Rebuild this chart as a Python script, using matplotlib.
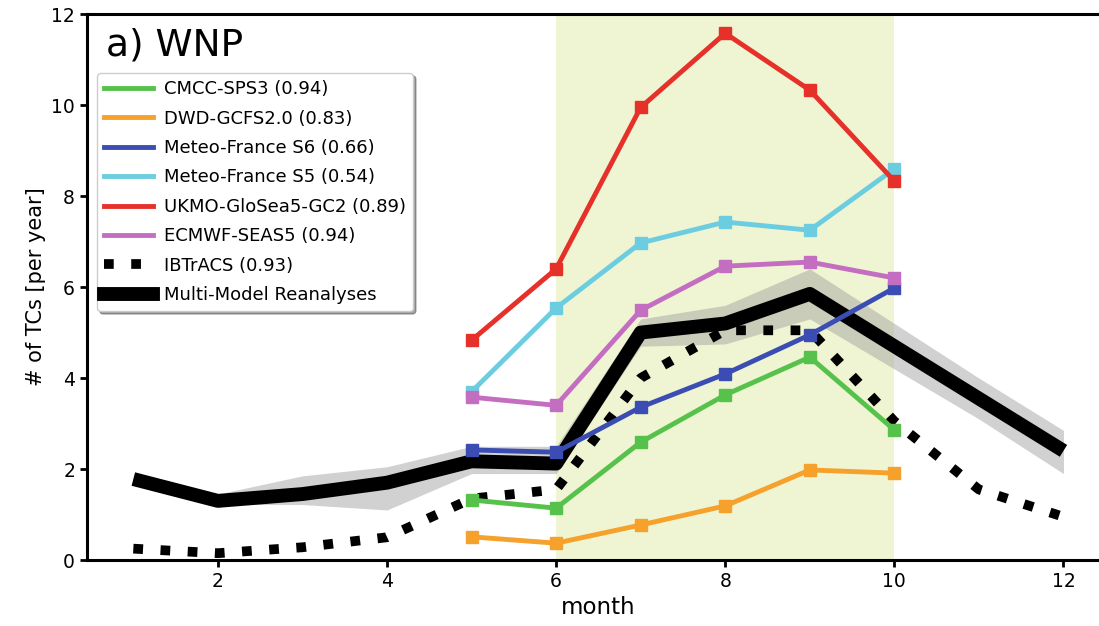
import matplotlib
matplotlib.use("Agg")
import matplotlib.pyplot as plt
from matplotlib.lines import Line2D

# months
months_all = [1, 2, 3, 4, 5, 6, 7, 8, 9, 10, 11, 12]
months_mod = [5, 6, 7, 8, 9, 10]

# model forecasts (May-Oct)
cmcc = [1.32, 1.14, 2.59, 3.63, 4.46, 2.86]
dwd = [0.51, 0.37, 0.77, 1.19, 1.98, 1.91]
mf_s6 = [2.42, 2.37, 3.36, 4.09, 4.95, 5.98]
mf_s5 = [3.70, 5.54, 6.97, 7.43, 7.25, 8.60]
ukmo = [4.83, 6.40, 9.95, 11.58, 10.33, 8.33]
ecmwf = [3.58, 3.40, 5.49, 6.46, 6.55, 6.20]

# observations / reanalyses
ibtracs = [0.25, 0.15, 0.28, 0.50, 1.35, 1.55, 4.00, 5.05, 5.05, 3.05, 1.55, 0.95]
mmr = [1.78, 1.30, 1.45, 1.70, 2.17, 2.12, 5.00, 5.20, 5.85, 4.70, 3.55, 2.40]
mmr_lo = [1.78, 1.22, 1.22, 1.10, 1.90, 1.90, 4.70, 4.75, 5.30, 4.20, 3.10, 1.90]
mmr_hi = [1.78, 1.45, 1.85, 2.05, 2.50, 2.50, 5.30, 5.60, 6.40, 5.20, 4.00, 2.85]

names = ["CMCC-SPS3 (0.94)", "DWD-GCFS2.0 (0.83)", "Meteo-France S6 (0.66)",
         "Meteo-France S5 (0.54)", "UKMO-GloSea5-GC2 (0.89)", "ECMWF-SEAS5 (0.94)"]
colors = ["#57c24b", "#f5a12c", "#3b4db3", "#6dcde0", "#e6302a", "#c46ec2"]
series = [cmcc, dwd, mf_s6, mf_s5, ukmo, ecmwf]

fig = plt.figure(figsize=(10.99, 6.26), dpi=100)
ax = fig.add_axes([0.079, 0.1054, 0.931, 0.872])

# highlighted season
ax.axvspan(6, 10, color="#eff5d3", zorder=0, lw=0)

ax.fill_between(months_all, mmr_lo, mmr_hi, color="#9a9a9a", alpha=0.45, lw=0, zorder=1)
ax.plot(months_all, mmr, color="black", lw=10, zorder=2, solid_capstyle="butt")
ibt_style = dict(color="black", lw=7, ls=(0, (1, 1.8)))
ax.plot(months_all, ibtracs, zorder=3, **ibt_style)

for y, c in zip(series, colors):
    ax.plot(months_mod, y, color=c, lw=3.5, marker="s", ms=8, zorder=4)

ax.set_xlim(0.45, 12.55)
ax.set_ylim(0, 12)
ax.set_xticks([2, 4, 6, 8, 10, 12])
ax.set_yticks([0, 2, 4, 6, 8, 10, 12])
ax.tick_params(labelsize=13.5, width=2, length=5)
for s in ax.spines.values():
    s.set_linewidth(2.2)
ax.spines["right"].set_visible(False)
ax.set_xlabel("month", fontsize=16.5, labelpad=4)
ax.set_ylabel("# of TCs [per year]", fontsize=15)

ax.text(0.019, 0.975, "a) WNP", transform=ax.transAxes, fontsize=27, va="top", ha="left")

handles = [Line2D([], [], color=c, lw=3.5) for c in colors]
handles.append(Line2D([], [], **ibt_style))
handles.append(Line2D([], [], color="black", lw=10))
ax.legend(handles, names + ["IBTrACS (0.93)", "Multi-Model Reanalyses"],
          loc="upper left", bbox_to_anchor=(0.01, 0.892), fontsize=13,
          handlelength=2.7, handletextpad=0.6, labelspacing=0.63,
          shadow=True, fancybox=True, framealpha=1, borderaxespad=0)

fig.savefig("out.png", dpi=100)
